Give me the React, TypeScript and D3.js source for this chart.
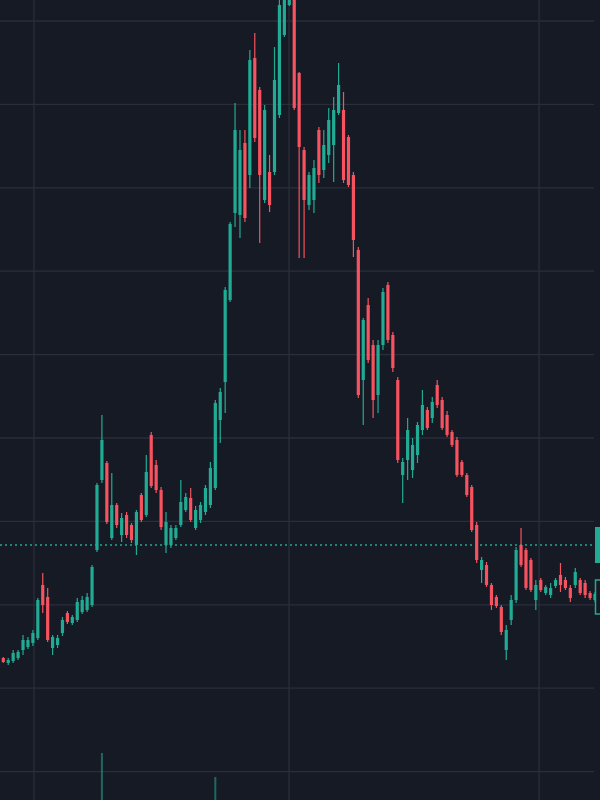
import React from "react";
import * as d3 from "d3";

const W = 600;
const H = 800;

// OHLC series (price units)
const opens = [
  3.42, 3.37, 3.39, 3.42, 3.5, 3.53, 3.57, 3.62, 4.15, 4.03,
  3.52, 3.55, 3.67, 3.87, 3.77, 3.8, 3.88, 3.9, 3.95, 4.5,
  5.2, 5.37, 4.62, 4.95, 4.65, 4.85, 4.75, 4.55, 5.05, 4.85,
  5.65, 5.35, 5.1, 4.55, 4.55, 4.62, 4.75, 4.9, 5.02, 4.72,
  4.8, 4.88, 4.95, 5.12, 5.8, 6.18, 7.0, 7.87, 7.85, 8.57,
  8.25, 9.42, 9.1, 8.0, 8.28, 8.28, 8.85, 9.65, 9.95, 10.05,
  9.27, 8.5, 7.95, 8.0, 8.7, 8.3, 8.45, 8.55, 8.87, 8.9,
  8.63, 8.25, 7.5, 6.2, 6.95, 6.55, 6.05, 6.55, 7.15, 6.65,
  6.2, 5.25, 5.4, 5.3, 5.45, 5.7, 5.9, 5.82, 6.15, 6.0,
  5.85, 5.68, 5.6, 5.38, 5.25, 5.13, 4.75, 4.3, 4.35, 4.15,
  4.03, 3.93, 3.5, 3.8, 4.0, 4.55, 4.5, 4.4, 4.0, 4.2,
  4.07, 4.05, 4.14, 4.25, 4.2, 4.12, 4.15, 4.2, 4.17, 4.07,
  4.0,
];
const closes = [
  3.38, 3.4, 3.47, 3.48, 3.6, 3.6, 3.67, 4.0, 3.95, 3.6,
  3.63, 3.62, 3.8, 3.78, 3.83, 3.98, 4.0, 4.03, 4.33, 5.15,
  5.6, 4.78, 4.95, 4.75, 4.82, 4.65, 4.6, 4.88, 4.8, 5.28,
  5.14, 5.1, 4.73, 4.78, 4.72, 4.72, 4.98, 5.03, 4.8, 4.9,
  4.95, 5.12, 5.32, 5.97, 6.08, 7.1, 7.76, 8.7, 8.5, 7.82,
  9.4, 8.62, 8.25, 8.9, 7.95, 9.2, 9.95, 10.05, 10.1, 8.92,
  8.53, 8.0, 8.25, 8.32, 8.25, 8.55, 8.8, 8.9, 9.15, 8.2,
  8.15, 7.6, 6.05, 6.8, 6.4, 6.0, 6.55, 7.08, 6.6, 6.32,
  5.4, 5.38, 5.7, 5.55, 5.75, 5.95, 5.72, 5.98, 5.95, 5.72,
  5.65, 5.55, 5.25, 5.25, 5.05, 4.7, 4.4, 4.4, 4.15, 3.95,
  3.94, 3.68, 3.7, 4.0, 4.5, 4.35, 4.12, 4.1, 4.15, 4.1,
  4.13, 4.12, 4.2, 4.15, 4.12, 4.02, 4.28, 4.07, 4.05, 4.02,
  4.06,
];
const highs = [
  3.43, 3.42, 3.5, 3.5, 3.65, 3.63, 3.7, 4.02, 4.27, 4.12,
  3.65, 3.65, 3.83, 3.89, 3.85, 4.02, 4.04, 4.07, 4.35, 5.17,
  5.85, 5.39, 5.27, 4.97, 4.87, 4.88, 4.77, 4.9, 5.07, 5.45,
  5.68, 5.4, 5.13, 4.88, 4.75, 4.75, 5.2, 5.07, 5.12, 4.94,
  4.98, 5.15, 5.38, 6.0, 6.12, 7.13, 7.78, 8.97, 8.7, 8.7,
  9.5, 9.67, 9.13, 8.95, 8.45, 9.53, 10.1, 10.15, 10.2, 10.15,
  9.28, 8.53, 8.28, 8.4, 8.73, 8.7, 8.92, 9.03, 9.37, 9.08,
  8.65, 8.28, 7.53, 6.82, 7.02, 6.6, 6.6, 7.12, 7.18, 6.68,
  6.23, 5.42, 5.82, 5.62, 5.78, 6.1, 5.93, 6.03, 6.2, 6.03,
  5.89, 5.7, 5.63, 5.4, 5.27, 5.15, 4.78, 4.43, 4.38, 4.17,
  4.05, 3.95, 3.75, 4.05, 4.53, 4.72, 4.52, 4.42, 4.2, 4.22,
  4.15, 4.17, 4.22, 4.37, 4.23, 4.15, 4.32, 4.22, 4.2, 4.09,
  4.08,
];
const lows = [
  3.37, 3.35, 3.37, 3.4, 3.45, 3.51, 3.54, 3.6, 3.87, 3.58,
  3.45, 3.52, 3.64, 3.76, 3.75, 3.78, 3.86, 3.88, 3.93, 4.48,
  5.17, 4.76, 4.6, 4.72, 4.58, 4.62, 4.57, 4.45, 4.78, 4.83,
  5.12, 5.07, 4.7, 4.47, 4.52, 4.6, 4.73, 4.88, 4.78, 4.7,
  4.77, 4.85, 4.92, 5.1, 5.57, 5.87, 6.98, 7.73, 7.62, 7.78,
  8.12, 8.58, 7.57, 7.97, 7.88, 8.25, 8.82, 9.63, 9.94, 8.9,
  7.42, 7.42, 7.9, 7.87, 8.17, 8.22, 8.37, 8.18, 8.85, 8.17,
  8.13, 7.43, 6.02, 5.75, 6.37, 5.82, 5.87, 6.5, 6.57, 6.28,
  5.37, 4.97, 5.2, 5.22, 5.37, 5.65, 5.7, 5.77, 5.92, 5.7,
  5.63, 5.53, 5.23, 5.23, 5.03, 4.68, 4.37, 4.17, 4.13, 3.9,
  3.92, 3.65, 3.4, 3.75, 3.97, 4.33, 4.1, 4.08, 3.9, 4.08,
  4.05, 4.02, 4.12, 4.08, 4.1, 3.98, 4.12, 4.05, 4.02, 4.0,
  3.98,
];
const volumes = [
  60, 40, 70, 50, 90, 60, 80, 180, 220, 200,
  110, 70, 100, 80, 60, 120, 90, 100, 210, 380,
  870, 320, 260, 150, 130, 140, 110, 180, 160, 280,
  300, 170, 200, 190, 120, 90, 170, 110, 150, 100,
  110, 140, 200, 630, 300, 370, 340, 360, 330, 350,
  370, 360, 350, 300, 260, 340, 370, 330, 300, 360,
  380, 350, 200, 210, 220, 180, 200, 230, 250, 260,
  180, 280, 370, 330, 280, 300, 260, 270, 260, 200,
  330, 240, 250, 160, 170, 190, 120, 130, 160, 140,
  130, 100, 180, 110, 120, 190, 210, 150, 130, 140,
  90, 170, 260, 210, 300, 230, 180, 150, 140, 90,
  70, 80, 60, 120, 70, 90, 110, 80, 90, 60,
  50,
];

// grid positions (price units / bar index units)
const gridPrices = [9.79, 8.956, 8.122, 7.288, 6.454, 5.62, 4.786, 3.952, 3.118, 2.284];
const gridBars = [6.23, 57.95, 108.66];
const lastPriceLine = 4.55;
const closeLabel = 4.03;

const BG = "#161a25";
const GRID = "#2a2e3a";
const UP = "#22ab94";
const DOWN = "#f7525f";

export default function App() {
  const n = opens.length;
  const x = d3.scaleLinear().domain([0, n - 1]).range([3.3, 595]);
  const y = d3.scaleLinear().domain([2, 10]).range([H, 0]);
  const v = d3.scaleLinear().domain([0, 1000]).range([840, 740]);
  const plotRight = 594;
  const bodyW = 3.2;
  const candles = d3.range(n).map((i) => ({
    i,
    o: opens[i],
    c: closes[i],
    h: highs[i],
    l: lows[i],
    vol: volumes[i],
  }));

  return (
    <svg
      width={W}
      height={H}
      style={{ position: "fixed", left: 0, top: 0, display: "block" }}
    >
      <rect x={0} y={0} width={W} height={H} fill={BG} />
      <g>
        {gridPrices.map((p, k) => (
          <line
            key={"h" + k}
            x1={0}
            x2={plotRight}
            y1={y(p)}
            y2={y(p)}
            stroke={GRID}
            strokeWidth={1.3}
          />
        ))}
        {gridBars.map((b, k) => (
          <line
            key={"v" + k}
            x1={x(b)}
            x2={x(b)}
            y1={0}
            y2={H}
            stroke={GRID}
            strokeWidth={1.3}
          />
        ))}
      </g>
      <g>
        {candles.map((d) => {
          const top = v(d.vol);
          return (
            <rect
              key={"vol" + d.i}
              x={x(d.i) - 1}
              y={top}
              width={2}
              height={Math.max(0, H - top)}
              fill={d.c >= d.o ? UP : DOWN}
              opacity={0.55}
            />
          );
        })}
      </g>
      <line
        x1={0}
        x2={plotRight}
        y1={y(lastPriceLine)}
        y2={y(lastPriceLine)}
        stroke={UP}
        strokeWidth={1.3}
        strokeDasharray="2,3"
      />
      <g>
        {candles.map((d) => {
          const up = d.c >= d.o;
          const col = up ? UP : DOWN;
          const yTop = y(Math.max(d.o, d.c));
          const yBot = y(Math.min(d.o, d.c));
          return (
            <g key={"c" + d.i}>
              <line
                x1={x(d.i)}
                x2={x(d.i)}
                y1={y(d.h)}
                y2={y(d.l)}
                stroke={col}
                strokeWidth={1.2}
              />
              <rect
                x={x(d.i) - bodyW / 2}
                y={yTop}
                width={bodyW}
                height={Math.max(1, yBot - yTop)}
                fill={col}
              />
            </g>
          );
        })}
      </g>
      <rect
        x={595}
        y={y(lastPriceLine) - 18}
        width={60}
        height={36}
        fill={UP}
      />
      <rect
        x={595.5}
        y={y(closeLabel) - 17}
        width={60}
        height={34}
        fill={BG}
        stroke={UP}
        strokeWidth={1.5}
      />
    </svg>
  );
}
